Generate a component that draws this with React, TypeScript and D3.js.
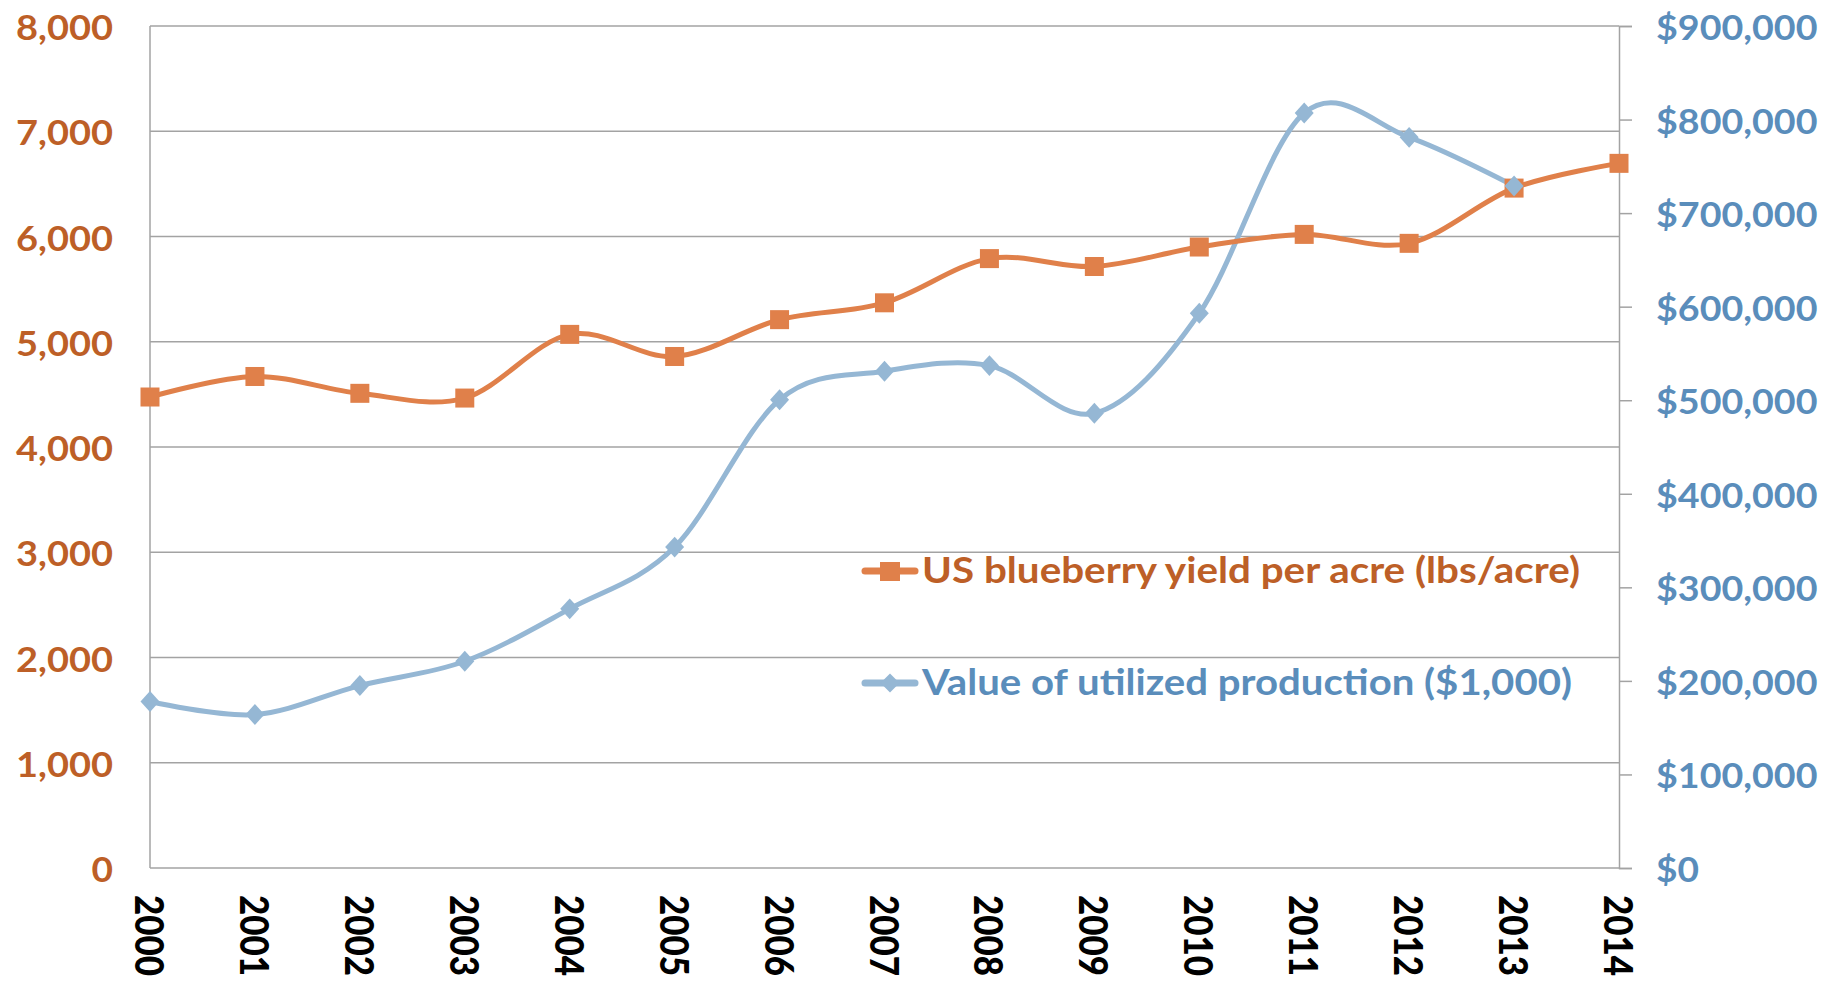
import React, { useEffect, useRef } from 'react';
import * as d3 from 'd3';

const years = [2000, 2001, 2002, 2003, 2004, 2005, 2006, 2007, 2008, 2009, 2010, 2011, 2012, 2013, 2014];
// lbs/acre
const yieldPerAcre = [4475, 4670, 4510, 4465, 5070, 4860, 5210, 5370, 5790, 5715, 5900, 6020, 5935, 6460, 6695];
// $1,000 (no 2014 value)
const productionValue = [178000, 164000, 195000, 221000, 277000, 343000, 500500, 531000, 537000, 486000, 593000, 807000, 781000, 729000];
const leftTicks = [0, 1000, 2000, 3000, 4000, 5000, 6000, 7000, 8000];
const rightTicks = [0, 100000, 200000, 300000, 400000, 500000, 600000, 700000, 800000, 900000];
const yieldLabel = 'US blueberry yield per acre (lbs/acre)';
const valueLabel = 'Value of utilized production ($1,000)';

const W = 1828;
const H = 984;
const FONT = 'Lato, "Open Sans", sans-serif';
const ORANGE = '#e0804a';
const ORANGE_TXT = '#bd5f27';
const BLUE = '#95b7d4';
const BLUE_TXT = '#5a8dbb';
const GRID = '#a3a3a3';

// the original face is wider than Lato, so stretch tick labels to its widths
const labelWidth = (s: string) => {
  let w = 0;
  for (const ch of s) w += ch === ',' ? 11 : 21.5;
  return w;
};

const App = () => {
  const ref = useRef<SVGSVGElement>(null);

  useEffect(() => {
    const svg = d3.select(ref.current);
    svg.selectAll('*').remove();

    const left = 150, right = 1619, top = 26, bottom = 868;

    const x = d3.scaleLinear().domain([2000, 2014]).range([left, right]);
    const yL = d3.scaleLinear().domain([0, 8000]).range([bottom, top]);
    const yR = d3.scaleLinear().domain([0, 900000]).range([bottom, top]);

    // gridlines from the left axis
    svg.append('g')
      .selectAll('line')
      .data(leftTicks)
      .enter().append('line')
      .attr('x1', left)
      .attr('x2', right)
      .attr('y1', d => yL(d))
      .attr('y2', d => yL(d))
      .attr('stroke', GRID)
      .attr('stroke-width', 1.5);

    // left axis line
    svg.append('line')
      .attr('x1', left).attr('x2', left)
      .attr('y1', top).attr('y2', bottom)
      .attr('stroke', GRID).attr('stroke-width', 1.5);

    // right axis with outside ticks
    const rAxis = svg.append('g')
      .attr('transform', `translate(${right},0)`)
      .call(d3.axisRight(yR).tickValues(rightTicks).tickSize(13).tickFormat(() => ''));
    rAxis.select('.domain').attr('stroke', GRID).attr('stroke-width', 1.5);
    rAxis.selectAll('.tick line').attr('stroke', GRID).attr('stroke-width', 1.5);

    const fmt = d3.format(',');

    // left tick labels
    svg.append('g')
      .selectAll('text')
      .data(leftTicks)
      .enter().append('text')
      .attr('x', 113)
      .attr('y', d => yL(d))
      .attr('text-anchor', 'end')
      .attr('dominant-baseline', 'central')
      .attr('font-family', FONT)
      .attr('font-weight', 700)
      .attr('font-size', 35)
      .attr('textLength', d => labelWidth(fmt(d)))
      .attr('lengthAdjust', 'spacingAndGlyphs')
      .attr('fill', ORANGE_TXT)
      .text(d => fmt(d));

    // right tick labels
    svg.append('g')
      .selectAll('text')
      .data(rightTicks)
      .enter().append('text')
      .attr('x', 1656)
      .attr('y', d => yR(d))
      .attr('dominant-baseline', 'central')
      .attr('font-family', FONT)
      .attr('font-weight', 700)
      .attr('font-size', 35)
      .attr('textLength', d => labelWidth('$' + fmt(d)))
      .attr('lengthAdjust', 'spacingAndGlyphs')
      .attr('fill', BLUE_TXT)
      .text(d => '$' + fmt(d));

    // year labels, rotated
    svg.append('g')
      .selectAll('text')
      .data(years)
      .enter().append('text')
      .attr('transform', d => `translate(${x(d)},895) rotate(90)`)
      .attr('dominant-baseline', 'central')
      .attr('font-family', FONT)
      .attr('font-weight', 900)
      .attr('font-size', 40)
      .attr('textLength', 81)
      .attr('lengthAdjust', 'spacingAndGlyphs')
      .attr('fill', '#000')
      .text(d => d);

    const curve = d3.curveCardinal.tension(0);

    // value line (right axis)
    const valueLine = d3.line<number>()
      .x((d, i) => x(years[i]))
      .y(d => yR(d))
      .curve(curve);
    svg.append('path')
      .attr('d', valueLine(productionValue))
      .attr('fill', 'none')
      .attr('stroke', BLUE)
      .attr('stroke-width', 5);

    // yield line (left axis)
    const yieldLine = d3.line<number>()
      .x((d, i) => x(years[i]))
      .y(d => yL(d))
      .curve(curve);
    svg.append('path')
      .attr('d', yieldLine(yieldPerAcre))
      .attr('fill', 'none')
      .attr('stroke', ORANGE)
      .attr('stroke-width', 5);

    const sq = 19;
    svg.append('g')
      .selectAll('rect')
      .data(yieldPerAcre)
      .enter().append('rect')
      .attr('x', (d, i) => x(years[i]) - sq / 2)
      .attr('y', d => yL(d) - sq / 2)
      .attr('width', sq)
      .attr('height', sq)
      .attr('fill', ORANGE);

    const diamond = d3.symbol().type(d3.symbolDiamond2).size(230);
    svg.append('g')
      .selectAll('path')
      .data(productionValue)
      .enter().append('path')
      .attr('transform', (d, i) => `translate(${x(years[i])},${yR(d)}) scale(1,1.1)`)
      .attr('d', diamond())
      .attr('fill', BLUE);

    // legend
    const legend = svg.append('g');
    legend.append('line')
      .attr('x1', 865).attr('x2', 915).attr('y1', 571).attr('y2', 571)
      .attr('stroke', ORANGE).attr('stroke-width', 7).attr('stroke-linecap', 'round');
    legend.append('rect')
      .attr('x', 880).attr('y', 562).attr('width', 20).attr('height', 19)
      .attr('fill', ORANGE);
    legend.append('text')
      .attr('x', 922).attr('y', 583)
      .attr('font-family', FONT)
      .attr('font-weight', 700)
      .attr('font-size', 37)
      .attr('textLength', 658)
      .attr('lengthAdjust', 'spacingAndGlyphs')
      .attr('fill', ORANGE_TXT)
      .text(yieldLabel);

    legend.append('line')
      .attr('x1', 865).attr('x2', 915).attr('y1', 683).attr('y2', 683)
      .attr('stroke', BLUE).attr('stroke-width', 7).attr('stroke-linecap', 'round');
    legend.append('path')
      .attr('transform', 'translate(890,683)')
      .attr('d', diamond())
      .attr('fill', BLUE);
    legend.append('text')
      .attr('x', 922).attr('y', 695)
      .attr('font-family', FONT)
      .attr('font-weight', 700)
      .attr('font-size', 37)
      .attr('textLength', 650)
      .attr('lengthAdjust', 'spacingAndGlyphs')
      .attr('fill', BLUE_TXT)
      .text(valueLabel);
  }, []);

  return (
    <div style={{ position: 'absolute', left: 0, top: 0 }}>
      <svg ref={ref} width={W} height={H} style={{ display: 'block', background: '#fff' }}></svg>
    </div>
  );
};

export default App;
